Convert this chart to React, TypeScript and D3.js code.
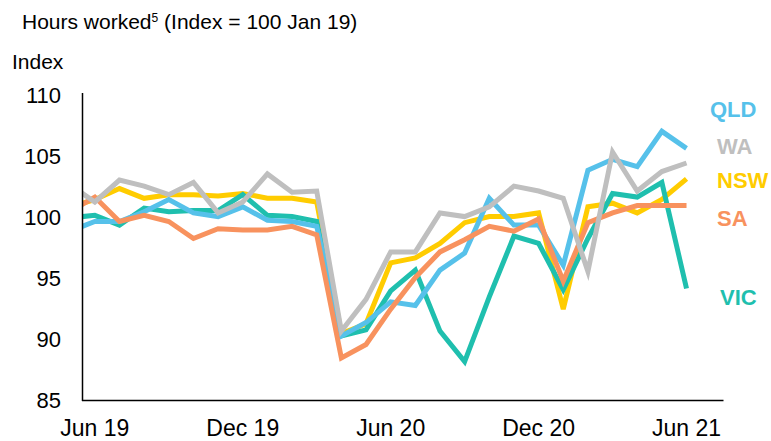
import React, { useEffect, useRef } from 'react'
import * as d3 from 'd3'

const WIDTH = 771
const HEIGHT = 441

// months, first one sits half a step left of the axis and is clipped
const months = [
  'May 19', 'Jun 19', 'Jul 19', 'Aug 19', 'Sep 19', 'Oct 19', 'Nov 19', 'Dec 19',
  'Jan 20', 'Feb 20', 'Mar 20', 'Apr 20', 'May 20', 'Jun 20', 'Jul 20', 'Aug 20',
  'Sep 20', 'Oct 20', 'Nov 20', 'Dec 20', 'Jan 21', 'Feb 21', 'Mar 21', 'Apr 21',
  'May 21', 'Jun 21',
]
const tickMonths = ['Jun 19', 'Dec 19', 'Jun 20', 'Dec 20', 'Jun 21']
const yTicks = [85, 90, 95, 100, 105, 110]

const qld = [98.9, 99.7, 99.7, 100.5, 101.5, 100.4, 100.1, 100.9, 99.8, 99.7, 99.3, 90.3, 91.4, 93.1, 92.8, 95.7, 97.1, 101.6, 99.4, 99.4, 96.1, 103.9, 104.8, 104.2, 107.1, 105.7]
const wa = [102.7, 101.3, 103.1, 102.6, 101.9, 102.9, 100.4, 101.3, 103.6, 102.1, 102.2, 90.7, 93.3, 97.2, 97.2, 100.4, 100.1, 100.9, 102.6, 102.2, 101.6, 95.6, 105.4, 102.2, 103.8, 104.5]
const nsw = [100.9, 101.5, 102.4, 101.6, 101.9, 101.9, 101.8, 102.0, 101.6, 101.6, 101.3, 90.5, 91.3, 96.3, 96.7, 97.9, 99.6, 100.1, 100.1, 100.4, 92.5, 100.9, 101.2, 100.4, 101.5, 103.2]
const sa = [100.5, 101.7, 99.7, 100.2, 99.7, 98.3, 99.1, 99.0, 99.0, 99.3, 98.6, 88.5, 89.6, 92.5, 95.1, 97.2, 98.2, 99.3, 98.9, 99.9, 94.8, 99.6, 100.4, 101.0, 101.0, 101.0]
const vic = [100.0, 100.2, 99.4, 100.8, 100.5, 100.6, 100.6, 101.9, 100.2, 100.1, 99.7, 90.3, 90.8, 94.0, 95.7, 90.7, 88.2, 93.5, 98.5, 97.9, 94.1, 98.3, 102.0, 101.7, 102.9, 94.2]

const series = [
  { name: 'NSW', values: nsw, color: '#FFCC00', labelAt: 103.1 },
  { name: 'VIC', values: vic, color: '#1FBFAE', labelAt: 93.5 },
  { name: 'QLD', values: qld, color: '#56C1EA', labelAt: 108.9 },
  { name: 'SA', values: sa, color: '#F8925E', labelAt: 100.0 },
  { name: 'WA', values: wa, color: '#BFBFBF', labelAt: 105.9 },
]

const FONT = 'Liberation Sans, Arial, sans-serif'

export default function App() {
  const ref = useRef<SVGSVGElement>(null)

  useEffect(() => {
    const svg = d3.select(ref.current)
    svg.selectAll('*').remove()

    const xScale = d3.scaleLinear()
      .domain([0.5, 26.5])
      .range([82.5, 723.5])
    const yScale = d3.scaleLinear()
      .domain([85, 110])
      .range([400.5, 96])

    svg.append('defs').append('clipPath').attr('id', 'plot')
      .append('rect')
      .attr('x', 82.5).attr('y', 0)
      .attr('width', 700).attr('height', HEIGHT)

    svg.append('text')
      .attr('x', 22).attr('y', 29)
      .attr('font-family', FONT).attr('font-size', 21)
      .call((t) => {
        t.append('tspan').text('Hours worked')
        t.append('tspan').attr('font-size', 12).attr('dy', -7).text('5')
        t.append('tspan').attr('dy', 7).text(' (Index = 100 Jan 19)')
      })

    svg.append('text')
      .attr('x', 12).attr('y', 69)
      .attr('font-family', FONT).attr('font-size', 21)
      .text('Index')

    // y ticks
    svg.append('g').selectAll('text')
      .data(yTicks)
      .enter()
      .append('text')
      .attr('x', 61)
      .attr('y', (d) => yScale(d) + 7)
      .attr('text-anchor', 'end')
      .attr('font-family', FONT).attr('font-size', 22)
      .text((d) => d)

    // x ticks
    svg.append('g').selectAll('text')
      .data(tickMonths)
      .enter()
      .append('text')
      .attr('x', (d) => xScale(months.indexOf(d)))
      .attr('y', 436)
      .attr('text-anchor', 'middle')
      .attr('font-family', FONT).attr('font-size', 23)
      .text((d) => d)

    const line = d3.line<number>()
      .x((d, i) => xScale(i))
      .y((d) => yScale(d))

    svg.append('g').attr('clip-path', 'url(#plot)')
      .selectAll('path')
      .data(series)
      .enter()
      .append('path')
      .attr('d', (d) => line(d.values))
      .attr('fill', 'none')
      .attr('stroke', (d) => d.color)
      .attr('stroke-width', 5)
      .attr('stroke-linejoin', 'miter')
      .attr('stroke-miterlimit', 4)

    // axes lines
    svg.append('line')
      .attr('x1', 82.5).attr('x2', 82.5)
      .attr('y1', 93).attr('y2', 401)
      .attr('stroke', '#000').attr('stroke-width', 1.5)
    svg.append('line')
      .attr('x1', 82).attr('x2', 723.5)
      .attr('y1', 400.5).attr('y2', 400.5)
      .attr('stroke', '#000').attr('stroke-width', 1.5)

    svg.append('g').selectAll('text')
      .data(series)
      .enter()
      .append('text')
      .attr('x', (d) => (d.name === 'QLD' ? 710 : d.name === 'VIC' ? 720 : 717))
      .attr('y', (d) => yScale(d.labelAt))
      .attr('dy', '0.36em')
      .attr('font-family', FONT).attr('font-size', 22).attr('font-weight', 'bold')
      .attr('fill', (d) => d.color)
      .text((d) => d.name)
  }, [])

  return (
    <svg
      ref={ref}
      width={WIDTH}
      height={HEIGHT}
      style={{ position: 'fixed', top: 0, left: 0, background: '#fff' }}
    />
  )
}
